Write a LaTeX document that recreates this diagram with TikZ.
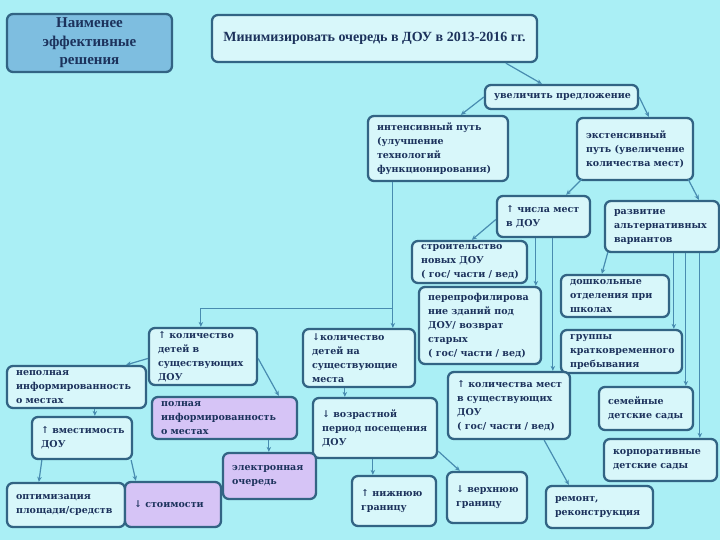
\documentclass[tikz,border=0pt]{standalone}
\usepackage{fontspec}
\setmainfont{DejaVu Serif}
\newfontfamily\tms{Liberation Serif}
\usetikzlibrary{arrows.meta}
\definecolor{bgc}{RGB}{170,239,245}
\definecolor{bordc}{RGB}{50,100,132}
\definecolor{lightc}{RGB}{216,247,250}
\definecolor{purc}{RGB}{214,196,246}
\definecolor{bluec}{RGB}{126,190,224}
\definecolor{txtc}{RGB}{28,50,92}
\definecolor{linec}{RGB}{72,140,176}
\tikzset{
  box/.style={draw=bordc, line width=2.3pt, rounded corners=6pt, fill=lightc, inner sep=0pt},
  pur/.style={fill=purc},
  txt/.style={font=\bfseries\fontsize{9.5}{14}\selectfont, align=left, text=txtc, inner sep=0pt},
  conn/.style={draw=linec, line width=1.2pt, -{Stealth[length=5pt,width=4.5pt]}}
}
\newcommand\bx[7][]{%
  \node[box,#1,minimum width={(#5-#3)*1pt},minimum height={(#6-#4)*1pt}] (#2) at ({(#3+#5)/2},{(#4+#6)/2}) {};
  \node[txt,anchor=west] (#2-t) at ([xshift=10pt]#2.west) {#7};
}
\begin{document}
\begin{tikzpicture}[x=1pt,y=-1pt]
\useasboundingbox (0,0) rectangle (720,540);
\fill[bgc] (0,0) rectangle (720,540);

\node[box, fill=bluec, minimum width=165pt, minimum height=58pt,
      font=\tms\bfseries\fontsize{15}{18.5}\selectfont, text=txtc, align=center]
  (nai) at (89.5,43) {Наименее\\эффективные\\решения};
\node[box, minimum width=325pt, minimum height=47pt,
      font=\tms\bfseries\fontsize{14}{16}\selectfont, text=txtc]
  (main) at (374.5,38.5) {Минимизировать очередь в ДОУ в 2013-2016 гг.};

\bx{uv}{485}{85}{638}{109}{увеличить предложение}
\bx{int}{368}{116}{508}{181}{интенсивный путь\\(улучшение\\технологий\\функционирования)}
\bx{ext}{577}{118}{693}{180}{экстенсивный\\путь (увеличение\\количества мест)}
\bx{chm}{497}{196}{590}{237}{↑ числа мест\\в ДОУ}
\bx{razv}{605}{201}{719}{252}{развитие\\альтернативных\\вариантов}
\bx{str}{412}{241}{527}{283}{строительство\\новых ДОУ\\( гос/ части / вед)}
\bx{pere}{419}{287}{541}{364}{перепрофилирова\\ние зданий под\\ДОУ/ возврат\\старых\\( гос/ части / вед)}
\bx{dosh}{561}{275}{669}{317}{дошкольные\\отделения при\\школах}
\bx{grp}{561}{330}{682}{373}{группы\\кратковременного\\пребывания}
\bx{kdu}{149}{328}{257}{385}{↑ количество\\детей в\\существующих\\ДОУ}
\bx{kdd}{303}{329}{415}{387}{↓количество\\детей на\\существующие\\места}
\bx{nep}{7}{366}{146}{408}{неполная\\информированность\\ о местах}
\bx[pur]{poln}{152}{397}{297}{439}{полная\\информированность\\ о местах}
\bx{kms}{448}{372}{570}{439}{↑ количества мест\\в существующих\\ДОУ\\( гос/ части / вед)}
\bx{sem}{599}{387}{693}{430}{семейные\\детские сады}
\bx{vm}{32}{417}{132}{459}{↑ вместимость\\ДОУ}
\bx{vozr}{313}{398}{437}{458}{↓ возрастной\\период посещения\\ДОУ}
\bx{korp}{604}{439}{717}{481}{корпоративные\\детские сады}
\bx[pur]{el}{223}{453}{316}{499}{электронная\\очередь}
\bx{opt}{7}{483}{125}{527}{оптимизация\\площади/средств}
\bx[pur]{stm}{125}{482}{221}{527}{↓ стоимости}
\bx{niz}{352}{476}{436}{526}{↑ нижнюю\\границу}
\bx{verh}{447}{472}{527}{523}{↓ верхнюю\\границу}
\bx{rem}{546}{486}{653}{528}{ремонт,\\реконструкция}

% connectors
\draw[conn] ([xshift=295pt]main.south west) -- ([xshift=58pt]uv.north west);
\draw[conn] (uv.west) -- ([xshift=94pt]int.north west);
\draw[conn] (uv.east) -- ([xshift=73pt]ext.north west);
\draw[conn] ([xshift=6pt,yshift=2pt]ext.south west) -- ([xshift=-25pt]chm.north east);
\draw[conn] ([xshift=-6pt,yshift=2pt]ext.south east) -- ([xshift=95pt]razv.north west);
\draw[conn] ([yshift=-3pt]chm.west) -- ([xshift=61pt]str.north west);
\coordinate (c7) at ([xshift=40pt]chm.south west);
\draw[conn] (c7) -- (c7 |- pere.north);
\coordinate (c8) at ([xshift=57pt]chm.south west);
\draw[conn] (c8) -- (c8 |- kms.north);
\draw[conn] ([xshift=4pt,yshift=1pt]razv.south west) -- ([xshift=42pt]dosh.north west);
\coordinate (c10) at ([xshift=70pt]razv.south west);
\draw[conn] (c10) -- (c10 |- grp.north);
\coordinate (c11) at ([xshift=82pt]razv.south west);
\draw[conn] (c11) -- (c11 |- sem.north);
\coordinate (c12) at ([xshift=96pt]razv.south west);
\draw[conn] (c12) -- (c12 |- korp.north);
\coordinate (ci) at ([xshift=26pt]int.south west);
\draw[conn] (ci) -- (ci |- kdd.north);
\coordinate (cj) at ([yshift=-126pt]ci);
\draw[conn] (cj) -| ([xshift=53pt]kdu.north west);
\draw[conn] ([yshift=-2pt]kdu.west) -- ([xshift=-21pt]nep.north east);
\draw[conn] ([yshift=-2pt]kdu.east) -- ([xshift=128pt]poln.north west);
\coordinate (cn) at ([xshift=89pt]nep.south west);
\draw[conn] (cn) -- (cn |- vm.north);
\draw[conn] ([xshift=11pt]vm.south west) -- ([xshift=33pt]opt.north west);
\draw[conn] ([xshift=-2pt]vm.south east) -- ([xshift=12pt]stm.north west);
\coordinate (cp) at ([xshift=118pt]poln.south west);
\draw[conn] (cp) -- (cp |- el.north);
\coordinate (ck) at ([xshift=43pt]kdd.south west);
\draw[conn] (ck) -- (ck |- vozr.north);
\coordinate (cv) at ([xshift=61pt]vozr.south west);
\draw[conn] (cv) -- (cv |- niz.north);
\draw[conn] ([yshift=8pt]vozr.south east) -- ([xshift=14pt]verh.north west);
\draw[conn] ([xshift=-27pt]kms.south east) -- ([xshift=24pt]rem.north west);
\end{tikzpicture}
\end{document}
